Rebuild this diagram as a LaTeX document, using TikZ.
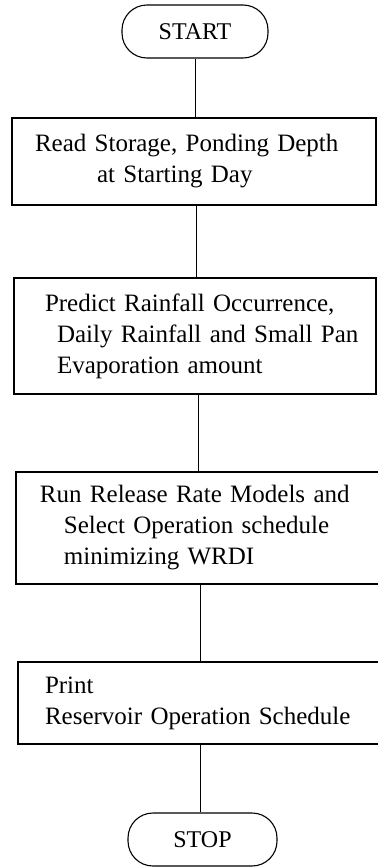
\documentclass[tikz,border=0pt]{standalone}
\usepackage{fontspec}
\setmainfont{Liberation Serif}
\newlength{\du}
\setlength{\du}{0.5pt}
\tikzset{
  termbox/.style={draw, rectangle, rounded corners=25\du, minimum width=146\du,
    minimum height=53\du, inner sep=0pt, font=\fontsize{12}{14}\selectfont},
  stepbox/.style={draw, rectangle, inner sep=0pt, align=left,
    font=\fontsize{12.5}{15.5}\selectfont},
  flowline/.style={line width=1.000000\du}
}
\begin{document}
\begin{tikzpicture}
\pgftransformxscale{1.000000}
\pgftransformyscale{-1.000000}
\pgfsetlinewidth{1.100000\du}
\useasboundingbox (0\du,0\du) rectangle (378\du,867\du);
% terminals
\node[termbox] (start) at (195.000000\du,31.500000\du){START};
\node[termbox, minimum width=149\du] (stop) at (202.500000\du,839.500000\du){STOP};
% process boxes
\node[stepbox, text width=364\du, minimum height=87\du] (readbox) at (194.000000\du,161.500000\du)
  {\hspace*{23\du}Read Storage, Ponding Depth\\\hspace*{85\du}at Starting Day};
\node[stepbox, text width=362\du, minimum height=116\du] (predictbox) at (195.000000\du,336.000000\du)
  {\hspace*{31\du}Predict Rainfall Occurrence,\\\hspace*{43\du}Daily Rainfall and Small Pan\\\hspace*{43\du}Evaporation amount};
\node[stepbox, text width=364\du, minimum height=112\du] (runbox) at (198.000000\du,528.000000\du)
  {\hspace*{24\du}Run Release Rate Models and\\\hspace*{48\du}Select Operation schedule\\\hspace*{48\du}minimizing WRDI};
\node[stepbox, text width=362\du, minimum height=82\du] (printbox) at (199.000000\du,703.000000\du)
  {\hspace*{27\du}Print\\\hspace*{27\du}Reservoir Operation Schedule};
% connectors
\draw[flowline] (start.south) -- (start.south |- readbox.north);
\draw[flowline] ([xshift=2\du]readbox.south) -- ([xshift=2\du]readbox.south |- predictbox.north);
\draw[flowline] ([xshift=3\du]predictbox.south) -- ([xshift=3\du]predictbox.south |- runbox.north);
\draw[flowline] ([xshift=2\du]runbox.south) -- ([xshift=2\du]runbox.south |- printbox.north);
\draw[flowline] ([xshift=1\du]printbox.south) -- ([xshift=1\du]printbox.south |- stop.north);
\end{tikzpicture}
\end{document}
